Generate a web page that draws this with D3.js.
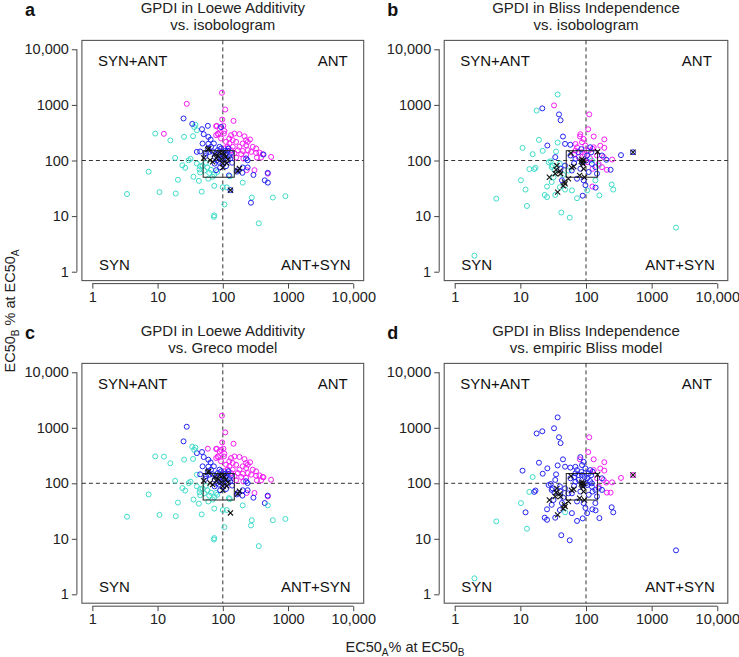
<!DOCTYPE html>
<html><head><meta charset="utf-8">
<script src="https://cdn.jsdelivr.net/npm/d3@7"></script>
<style>body{margin:0;background:#fff} text{font-family:"Liberation Sans",Arial,Helvetica,sans-serif}</style>
</head><body><svg id="c" width="739" height="657"></svg>
<script>
const tickValues = [1, 10, 100, 1000, 10000];
const tickLabels = ["1", "10", "100", "1000", "10,000"];
const quadrantLabels = ["SYN+ANT", "ANT", "SYN", "ANT+SYN"];
const panelLetters = ["a", "b", "c", "d"];
const panelTitles = [
  ["GPDI in Loewe Additivity", "vs. isobologram"],
  ["GPDI in Bliss Independence", "vs. isobologram"],
  ["GPDI in Loewe Additivity", "vs. Greco model"],
  ["GPDI in Bliss Independence", "vs. empiric Bliss model"]
];
const refBox = [50, 150];
const refLine = 100;

// [EC50A% at EC50B, EC50B% at EC50A, colour vs. isobologram, colour vs. Greco]
const loewePoints = [
[3.4,25,"c","c"],[7.3,63,"c","c"],[9.2,305,"c","c"],[10.7,27,"c","c"],[15.7,230,"c","c"],
[19,25.5,"c","c"],[20.5,45,"c","c"],[18.6,111,"c","c"],[25.5,267,"c","c"],[24,82,"c","c"],
[26.5,74,"c","c"],[30,101,"c","c"],[32,107,"c","c"],[35.5,51,"c","c"],[35,274,"c","c"],
[40,350,"c","b"],[36.5,400,"c","c"],[38,440,"c","c"],[44,69,"c","c"],[45,79,"c","c"],
[43,43,"c","c"],[47.5,27.5,"c","c"],[45,61,"c","c"],[49,81,"c","c"],[58,75,"c","c"],
[70,51,"c","c"],[74,35,"c","c"],[74,10.3,"c","c"],[73,9.7,"c","c"],[106,16.2,"c","c"],
[115,33,"c","c"],[100,33,"c","c"],[202,40,"c","c"],[278,21.6,"c","c"],[585,21.6,"c","c"],
[910,22.8,"c","c"],[356,7.4,"c","c"],[74,56,"c","c"],[62,60,"c","c"],[128,52,"c","c"],
[55,90,"c","c"],[66,68,"c","c"],[52,66,"c","c"],[40,88,"c","c"],[82,62,"c","c"],[60,47,"c","c"],
[97,1650,"m","m"],[28,1045,"m","b"],[109,826,"m","m"],[146,516,"m","m"],[98,545,"m","m"],
[12.5,302,"m","c"],[81,420,"m","m"],[102,420,"m","m"],[84,305,"m","m"],[104,305,"m","m"],
[151,305,"m","m"],[180,298,"m","m"],[126,249,"m","m"],[142,232,"m","m"],[160,216,"m","m"],
[112,216,"m","m"],[202,202,"m","m"],[228,188,"m","m"],[180,176,"m","m"],[142,176,"m","m"],
[119,176,"m","m"],[106,164,"m","m"],[134,153,"m","m"],[170,153,"m","m"],[202,149,"m","m"],
[242,153,"m","m"],[151,134,"m","m"],[191,130,"m","m"],[228,125,"m","m"],[324,137,"m","m"],
[365,139,"m","m"],[410,130,"m","m"],[387,113,"m","m"],[333,113,"m","m"],[550,116,"m","m"],
[160,113,"m","m"],[207,108,"m","m"],[306,67,"m","m"],[490,58,"m","m"],[228,232,"m","m"],
[89,377,"m","m"],[79,285,"m","m"],[94,249,"m","m"],[272,143,"m","m"],[79,414,"m","m"],
[106,340,"m","m"],[134,285,"m","m"],[215,273,"m","m"],[262,239,"m","m"],[288,176,"m","m"],
[324,164,"m","m"],[242,216,"m","m"],[126,202,"m","m"],[232,67,"m","m"],[85,295,"m","m"],
[25,570,"b","b"],[34,456,"b","c"],[48,366,"b","b"],[59,420,"b","m"],[51,297,"b","b"],
[65,238,"b","b"],[73,202,"b","b"],[49,202,"b","b"],[40,143,"b","c"],[55.5,134,"b","b"],
[59,164,"b","b"],[70,145,"b","b"],[89,176,"b","b"],[94,400,"b","m"],[122,164,"b","b"],
[126,120,"b","b"],[124,54,"b","c"],[228,109,"b","b"],[240,75,"b","b"],[295,55,"b","b"],
[420,128,"b","m"],[488,60,"b","b"],[440,44,"b","b"],[490,40,"b","c"],[270,17.4,"b","c"],
[170,67,"b","b"],[200,60,"b","b"],[79,67,"b","c"],[75,116,"b","b"],[81,101,"b","b"],
[89,125,"b","b"],[98,143,"b","b"],[106,116,"b","b"],[112,130,"b","b"],[119,101,"b","b"],
[130,109,"b","b"],[102,88,"b","b"],[87,95,"b","b"],[110,149,"b","b"],[134,137,"b","b"],
[95,109,"b","b"],[79,134,"b","b"],[112,79,"b","b"],[139,91,"b","b"],[91,75,"b","b"],
[101,120,"b","b"],[119,149,"b","b"],[84,153,"b","b"],[66,176,"b","b"],[60,266,"b","b"],
[94,164,"b","b"],[62,143,"b","b"],[54,120,"b","b"],[75,88,"b","b"],[202,75,"b","b"],
[164,63,"b","b"],[240,101,"b","b"],[131,29.3,"b","-"],[60,200,"b","b"],[45,145,"b","b"]
];
const loeweCrosses = [
[131,29.3],[180,72],[59,158],[51,111],[100,75],[100,88],[64,101],[61,165],[85,120],[95,105],
[110,115],[75,130],[90,140],[105,130],[120,105],[70,95],[100,140],[80,110],[170,65],[115,90]
];

// [EC50A% at EC50B, EC50B% at EC50A, colour vs. isobologram, colour vs. empiric Bliss]
const blissPoints = [
[37,1540,"c","b"],[17.7,790,"c","b"],[10.8,169,"c","b"],[19.2,235,"c","b"],[15.4,130,"c","c"],
[21.9,149,"c","b"],[35,145,"c","b"],[37,210,"c","b"],[13.7,70,"c","c"],[16.3,70,"c","b"],
[17,74,"c","b"],[10.2,44,"c","c"],[12,30,"c","b"],[4.3,20.6,"c","c"],[12.6,15.2,"c","c"],
[23.5,24,"c","b"],[25.5,22,"c","b"],[25.5,34,"c","b"],[30,76,"c","b"],[29,97,"c","b"],
[33,68,"c","b"],[32,50,"c","b"],[42,11.6,"c","b"],[56.5,9.4,"c","b"],[73,21,"c","b"],
[160,23.6,"c","b"],[246,37,"c","b"],[260,30,"c","b"],[2,1.94,"c","c"],[2350,6.2,"c","b"],
[27,93,"c","b"],[31,81,"c","b"],[30,41,"c","b"],[40,33,"c","b"],[34,24,"c","b"],
[48,30,"c","c"],[54,66,"c","b"],[61,29,"c","b"],[123,100,"c","b"],[156,81,"c","b"],
[139,44,"c","b"],[104,29,"c","b"],[40,88,"c","b"],[45,55,"c","b"],
[32.6,980,"m","b"],[112,675,"m","m"],[108,365,"m","m"],[82,296,"m","b"],[81,270,"m","m"],
[131,270,"m","m"],[190,240,"m","m"],[126,162,"m","b"],[250,104,"m","m"],[208,68,"m","m"],
[125,34,"m","b"],[69,198,"m","b"],[73,173,"m","b"],[87,213,"m","b"],[98,185,"m","b"],
[110,151,"m","b"],[131,173,"m","m"],[147,123,"m","m"],[87,141,"m","b"],[77,115,"m","b"],
[104,93,"m","b"],[69,151,"m","b"],[165,185,"m","m"],[186,115,"m","m"],[126,71,"m","b"],
[156,87,"m","m"],[92,244,"m","b"],[66,128,"m","b"],[175,76,"m","b"],[190,169,"m","m"],
[95,130,"m","b"],[115,110,"m","b"],
[21.6,866,"b","b"],[38.8,675,"b","b"],[41,530,"b","b"],[44.6,270,"b","b"],[25.8,186,"b","b"],
[57.7,192,"b","b"],[341,125,"b","m"],[204,103,"b","m"],[237,68,"b","m"],[89,23.3,"b","b"],
[140,32.5,"b","b"],[58,123,"b","b"],[69,107,"b","b"],[77,141,"b","b"],[104,123,"b","b"],
[123,87,"b","b"],[139,76,"b","b"],[110,62,"b","b"],[92,44,"b","b"],[73,47,"b","b"],
[61,66,"b","b"],[48,81,"b","b"],[43,44,"b","b"],[116,173,"b","b"],[175,123,"b","b"],
[147,58,"b","b"],[98,36,"b","b"],[82,71,"b","b"],[48,199,"b","b"],[34,115,"b","b"],
[41,71,"b","b"],[520,141,"b","m"],[88,92,"b","b"],[100,100,"b","b"],[66,90,"b","b"],
[85,160,"b","b"],[120,140,"b","b"]
];
const blissCrosses = [
[520,141],[150,143],[27.7,50],[37,27],[48,38],[47,41],[35,68],[34,58],[65,78],[85,97],
[90,87],[92,71],[80,54],[95,50],[36,81],[41,58],[54,47],[60,75],[88,92],[40,65],[45,35],
[59,135],[92,100],[86,105]
];

const colorOf = {c: "#3fdccb", b: "#2323f0", m: "#f41cf4"};

const panels = [
  {pts: loewePoints, col: 2, crosses: loeweCrosses, left: 81.9, right: 363.7, top: 40.4, bottom: 280.6},
  {pts: blissPoints, col: 2, crosses: blissCrosses, left: 444.2, right: 727.8, top: 40.4, bottom: 280.6},
  {pts: loewePoints, col: 3, crosses: loeweCrosses, left: 81.9, right: 363.7, top: 363.4, bottom: 603.2},
  {pts: blissPoints, col: 3, crosses: blissCrosses, left: 444.2, right: 727.8, top: 363.4, bottom: 603.2}
];

const svg = d3.select("#c");
const dom = [Math.pow(10, -0.16), Math.pow(10, 4.16)];
const FS = 14.5;

panels.forEach((p, i) => {
  const x = d3.scaleLog().domain(dom).range([p.left, p.right]);
  const y = d3.scaleLog().domain(dom).range([p.bottom, p.top]);
  const g = svg.append("g");
  const cx = (p.left + p.right) / 2;

  // title
  g.append("text").attr("x", cx).attr("y", p.top - 27.5).attr("text-anchor", "middle")
    .attr("font-size", 15).attr("fill", "#222").text(panelTitles[i][0]);
  g.append("text").attr("x", cx).attr("y", p.top - 10.5).attr("text-anchor", "middle")
    .attr("font-size", 15).attr("fill", "#222").text(panelTitles[i][1]);
  g.append("text").attr("x", p.left - 57).attr("y", p.top - 24)
    .attr("font-size", 18).attr("font-weight", "bold").attr("fill", "#111").text(panelLetters[i]);

  // axes
  const fmt = (d) => tickLabels[tickValues.indexOf(d)];
  const ax = g.append("g").attr("transform", `translate(0,${p.bottom + 3})`)
    .call(d3.axisBottom(x).tickValues(tickValues).tickFormat(fmt).tickSize(5).tickPadding(3).tickSizeOuter(0));
  const ay = g.append("g").attr("transform", `translate(${p.left - 5},0)`)
    .call(d3.axisLeft(y).tickValues(tickValues).tickFormat(fmt).tickSize(5).tickPadding(3).tickSizeOuter(0));
  [ax, ay].forEach(a => {
    a.select(".domain").remove();
    a.selectAll("line").attr("stroke", "#444");
    a.selectAll("text").attr("font-size", FS).attr("fill", "#222")
      .attr("font-family", '"Liberation Sans",Arial,sans-serif');
  });
  ax.append("line").attr("x1", x(1)).attr("x2", x(10000)).attr("stroke", "#444");
  ay.append("line").attr("y1", y(1)).attr("y2", y(10000)).attr("stroke", "#444");

  // frame
  g.append("rect").attr("x", p.left).attr("y", p.top).attr("width", p.right - p.left)
    .attr("height", p.bottom - p.top).attr("fill", "none").attr("stroke", "#555").attr("stroke-width", 1.1);

  // reference lines
  g.append("line").attr("x1", x(refLine)).attr("x2", x(refLine)).attr("y1", p.top).attr("y2", p.bottom)
    .attr("stroke", "#333").attr("stroke-dasharray", "4,3");
  g.append("line").attr("y1", y(refLine)).attr("y2", y(refLine)).attr("x1", p.left).attr("x2", p.right)
    .attr("stroke", "#333").attr("stroke-dasharray", "4,3");

  // quadrant labels
  const ql = [
    [p.left + 16, p.top + 26, "start"], [p.right - 16, p.top + 26, "end"],
    [p.left + 17, p.bottom - 11, "start"], [p.right - 13, p.bottom - 11, "end"]
  ];
  ql.forEach((q, k) => g.append("text").attr("x", q[0]).attr("y", q[1]).attr("text-anchor", q[2])
    .attr("font-size", 15).attr("fill", "#111").text(quadrantLabels[k]));

  // points
  const pts = p.pts.filter(d => d[p.col] !== "-");
  g.append("g").selectAll("circle").data(pts).join("circle")
    .attr("cx", d => x(d[0])).attr("cy", d => y(d[1])).attr("r", 2.5)
    .attr("fill", "none").attr("stroke", d => colorOf[d[p.col]]).attr("stroke-width", 1);

  // box 50-150
  g.append("rect").attr("x", x(refBox[0])).attr("y", y(refBox[1]))
    .attr("width", x(refBox[1]) - x(refBox[0])).attr("height", y(refBox[0]) - y(refBox[1]))
    .attr("fill", "none").attr("stroke", "#222").attr("stroke-width", 1);

  // crosses
  const s = 2.6;
  g.append("g").selectAll("path").data(p.crosses).join("path")
    .attr("d", d => { const X = x(d[0]), Y = y(d[1]);
      return `M${X - s},${Y - s}L${X + s},${Y + s}M${X - s},${Y + s}L${X + s},${Y - s}`; })
    .attr("stroke", "#111").attr("stroke-width", 1.1);
});

// axis titles
const yl = svg.append("text").attr("transform", "translate(15,311) rotate(-90)")
  .attr("text-anchor", "middle").attr("font-size", FS).attr("fill", "#222");
yl.append("tspan").text("EC50");
yl.append("tspan").attr("font-size", 10).attr("dy", 4).text("B");
yl.append("tspan").attr("dy", -4).text(" % at EC50");
yl.append("tspan").attr("font-size", 10).attr("dy", 4).text("A");

const xl = svg.append("text").attr("x", 405).attr("y", 652)
  .attr("text-anchor", "middle").attr("font-size", FS).attr("fill", "#222");
xl.append("tspan").text("EC50");
xl.append("tspan").attr("font-size", 10).attr("dy", 4).text("A");
xl.append("tspan").attr("dy", -4).text("% at EC50");
xl.append("tspan").attr("font-size", 10).attr("dy", 4).text("B");
</script></body></html>
